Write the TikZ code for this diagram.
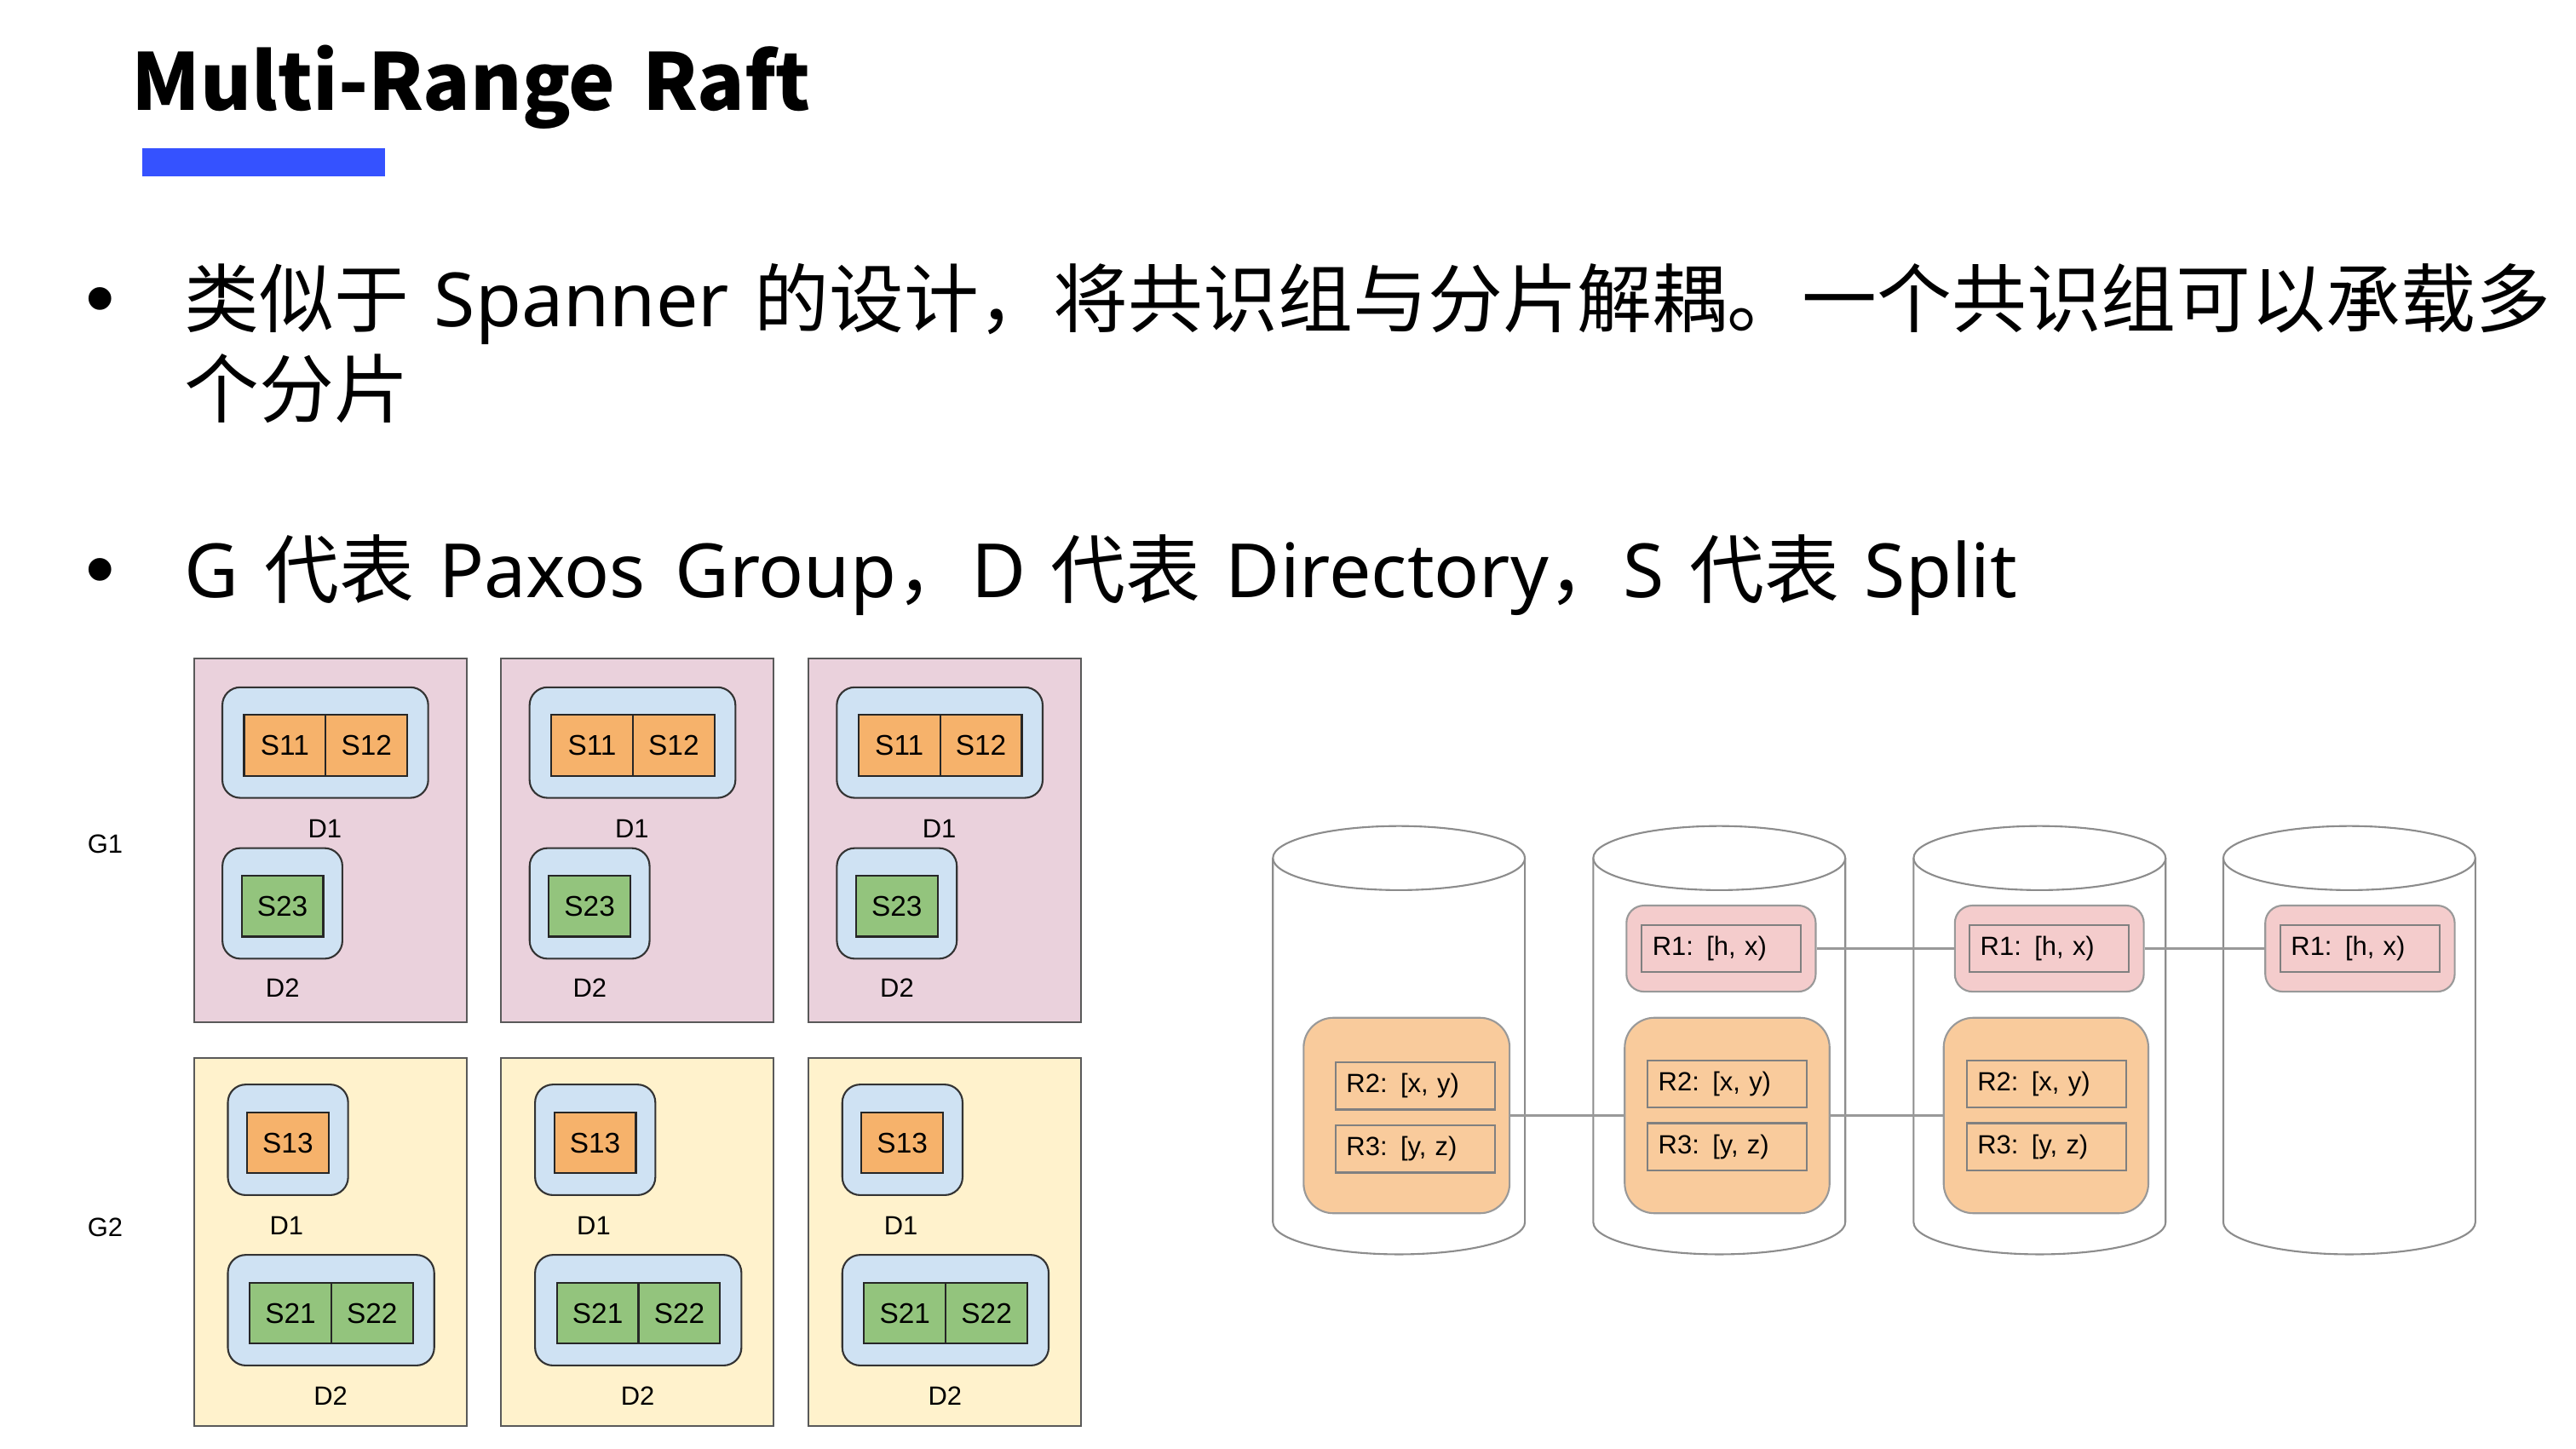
\documentclass[tikz,border=0pt]{standalone}
\usepackage{fontspec}
\setmainfont{Liberation Sans}
\newfontfamily\cjkfont[WordSpace=1.5]{Noto Sans CJK SC}
\newfontfamily\latfont[WordSpace=1.5]{Noto Sans}
\usetikzlibrary{positioning}

\definecolor{titleblue}{HTML}{3552FF}
\definecolor{grppink}{HTML}{EAD1DC}
\definecolor{grpyellow}{HTML}{FFF2CC}
\definecolor{dirblue}{HTML}{CFE2F3}
\definecolor{splitorange}{HTML}{F6B26B}
\definecolor{splitgreen}{HTML}{93C47D}
\definecolor{rngpink}{HTML}{F4CCCC}
\definecolor{rngorange}{HTML}{F9CB9C}

\newcommand\pu{0.19286mm}

\tikzset{
  body/.style={anchor=base west, inner sep=0pt, font=\cjkfont\fontsize{25}{30}\selectfont},
  bulletdot/.style={inner sep=0pt, font=\fontsize{28}{32}\selectfont},
  grp/.style={draw=black!65, line width=0.6pt, minimum width=166*\pu, inner sep=0pt},
  dirbox/.style={draw=black!80, fill=dirblue, line width=0.6pt, rounded corners=2.1mm,
    minimum height=67.3*\pu, inner sep=0pt},
  split/.style={draw=black!85, line width=0.6pt, minimum width=49.7*\pu, minimum height=37.2*\pu,
    inner sep=0pt, outer sep=0pt, font=\fontsize{9.5}{11}\selectfont},
  lbl/.style={inner sep=0pt, font=\fontsize{8.8}{10}\selectfont},
  cyl/.style={draw=black!45, line width=0.6pt},
  rng/.style={draw=black!40, line width=0.6pt, inner sep=0pt},
  rbox/.style={draw=black!50, line width=0.6pt, minimum height=28.7*\pu, text width=84*\pu,
    inner xsep=6.5*\pu, inner ysep=0pt, align=left, font=\fontsize{8.8}{11}\selectfont},
  link/.style={draw=black!40, line width=0.7pt},
}

\begin{document}
\begin{tikzpicture}[x=0.19286mm, y=-0.19286mm]
  \useasboundingbox (0,0) rectangle (1568,882);

  \node[anchor=base west, inner sep=0pt, font=\cjkfont\bfseries\fontsize{26.2}{30}\selectfont]
    (title) at (80,67) {Multi-Range Raft};
  \node[fill=titleblue, minimum width=148*\pu, minimum height=17*\pu, inner sep=0pt, anchor=north west]
    (bar) at (86,90) {};

  \node[bulletdot] (dot1) at (61,187) {•};
  \node[body] (line1) at (112,199) {类似于 {\latfont Spanner} 的设计，将共识组与分片解耦。一个共识组可以承载多};
  \node[body] (line1b) at (112,254) {个分片};
  \node[bulletdot] (dot2) at (61,352) {•};
  \node[body] (line2) at (112,364)
    {{\latfont G} 代表 {\latfont Paxos Group}，{\latfont D} 代表 {\latfont Directory}，{\latfont S} 代表 {\latfont Split}};

  \node[lbl] (gA) at (64,514) {G1};
  \node[lbl] (gB) at (64,747) {G2};

  \foreach \c/\dx in {1/0,2/187,3/374} {
    \node[grp, fill=grppink, minimum height=221*\pu] (grp1-\c) at ({201+\dx},511.5) {};
    \node[dirbox, minimum width=125.3*\pu] (dA-\c) at ({198+\dx},452) {};
    \node[split, fill=splitorange] (s11-\c) at ({173.4+\dx},453.6) {S11};
    \node[split, fill=splitorange, right=0pt of s11-\c] (s12-\c) {S12};
    \node[lbl] (lA-\c) at ({197.7+\dx},504.6) {D1};
    \node[dirbox, minimum width=73*\pu] (dB-\c) at ({171.9+\dx},549.9) {};
    \node[split, fill=splitgreen] (s23-\c) at ({171.9+\dx},551.5) {S23};
    \node[lbl] (lB-\c) at ({172+\dx},601.3) {D2};

    \node[grp, fill=grpyellow, minimum height=224*\pu] (grp2-\c) at ({201+\dx},756) {};
    \node[dirbox, minimum width=73.2*\pu] (dC-\c) at ({175.3+\dx},693.8) {};
    \node[split, fill=splitorange] (s13-\c) at ({175.2+\dx},695.6) {S13};
    \node[lbl] (lC-\c) at ({174.4+\dx},745.9) {D1};
    \node[dirbox, minimum width=125.6*\pu] (dD-\c) at ({201.5+\dx},797.5) {};
    \node[split, fill=splitgreen] (s21-\c) at ({176.8+\dx},799.3) {S21};
    \node[split, fill=splitgreen, right=0pt of s21-\c] (s22-\c) {S22};
    \node[lbl] (lD-\c) at ({201.2+\dx},849.5) {D2};
  }

  \foreach \cx in {851.5,1046.5,1241.5,1430} {
    \draw[cyl] (\cx,522.3) ellipse [x radius=76.7*\pu, y radius=19.5*\pu];
    \draw[cyl] ({\cx-76.7},522.3) -- ({\cx-76.7},744)
      arc [start angle=180, end angle=360, x radius=76.7*\pu, y radius=19.5*\pu] -- ({\cx+76.7},522.3);
  }

  \node[rng, fill=rngorange, rounded corners=3.5mm, minimum width=125.4*\pu, minimum height=119*\pu]
    (o1) at (856.2,679) {};
  \node[rbox, fill=rngorange] (r2-1) at (861.5,661) {R2: [x, y)};
  \node[rbox, fill=rngorange] (r3-1) at (861.5,699.4) {R3: [y, z)};

  \node[rng, fill=rngpink, rounded corners=2.05mm, minimum width=115.2*\pu, minimum height=52.4*\pu]
    (p2) at (1047.6,577.4) {};
  \node[rbox, fill=rngpink] (r1-2) at (1047.8,577.3) {R1: [h, x)};
  \node[rng, fill=rngorange, rounded corners=3.5mm, minimum width=124.7*\pu, minimum height=119*\pu]
    (o2) at (1051.3,679) {};
  \node[rbox, fill=rngorange] (r2-2) at (1051.4,659.7) {R2: [x, y)};
  \node[rbox, fill=rngorange] (r3-2) at (1051.4,698) {R3: [y, z)};

  \node[rng, fill=rngpink, rounded corners=2.05mm, minimum width=115*\pu, minimum height=52.4*\pu]
    (p3) at (1247.4,577.4) {};
  \node[rbox, fill=rngpink] (r1-3) at (1247.4,577.3) {R1: [h, x)};
  \node[rng, fill=rngorange, rounded corners=3.5mm, minimum width=124.6*\pu, minimum height=119*\pu]
    (o3) at (1245.4,679) {};
  \node[rbox, fill=rngorange] (r2-3) at (1245.6,659.7) {R2: [x, y)};
  \node[rbox, fill=rngorange] (r3-3) at (1245.6,698) {R3: [y, z)};

  \node[rng, fill=rngpink, rounded corners=2.05mm, minimum width=115.3*\pu, minimum height=52.4*\pu]
    (p4) at (1436.5,577.4) {};
  \node[rbox, fill=rngpink] (r1-4) at (1436.5,577.3) {R1: [h, x)};

  \begin{scope}[-]
    \draw[link] (o1) to (o2);
    \draw[link] (o2) to (o3);
    \draw[link] (p2) to (p3);
    \draw[link] (p3) to (p4);
  \end{scope}
\end{tikzpicture}
\end{document}
